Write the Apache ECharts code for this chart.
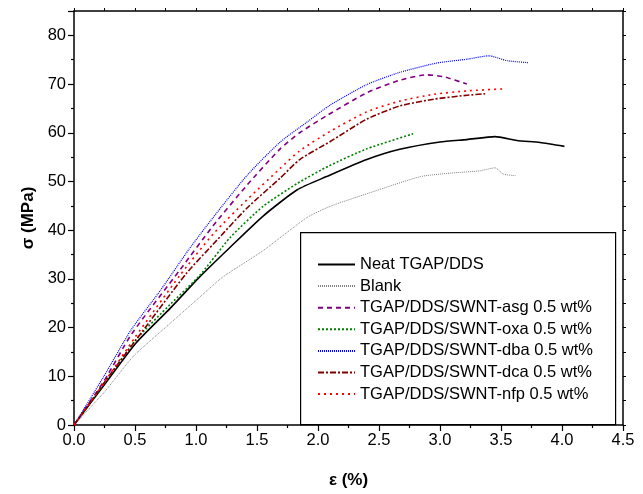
<!DOCTYPE html>
<html>
<head>
<meta charset="utf-8">
<script src="https://cdn.jsdelivr.net/npm/echarts@6/dist/echarts.min.js"></script>
<style>
html,body{margin:0;padding:0;background:#fff;}
#chart{width:643px;height:494px;}
</style>
</head>
<body>
<div id="chart"></div>
<script>
const xTicks = [0, 0.5, 1, 1.5, 2, 2.5, 3, 3.5, 4, 4.5];
const yTicks = [0, 10, 20, 30, 40, 50, 60, 70, 80];
const seriesNames = [
  'Neat TGAP/DDS',
  'Blank',
  'TGAP/DDS/SWNT-asg 0.5 wt%',
  'TGAP/DDS/SWNT-oxa 0.5 wt%',
  'TGAP/DDS/SWNT-dba 0.5 wt%',
  'TGAP/DDS/SWNT-dca 0.5 wt%',
  'TGAP/DDS/SWNT-nfp 0.5 wt%'
];
const neat = [[0,0],[0.25,8.3],[0.51,16.9],[0.79,24.0],[1.03,30.4],[1.28,36.5],[1.55,42.9],[1.83,48.3],[2.07,51.0],[2.4,54.5],[2.67,56.6],[3.0,58.1],[3.22,58.6],[3.45,59.2],[3.63,58.4],[3.82,58.0],[4.02,57.2]];
const blank = [[0,0],[0.25,6.8],[0.49,14.2],[0.79,20.9],[1.1,27.8],[1.22,30.4],[1.55,35.8],[1.91,42.6],[2.1,44.9],[2.5,48.3],[2.84,51.0],[3.08,51.7],[3.33,52.2],[3.45,52.8],[3.52,51.5],[3.62,51.2]];
const asg = [[0,0],[0.25,9.2],[0.47,18.6],[0.87,31.9],[1.14,40.9],[1.42,49.3],[1.69,56.7],[1.85,60.0],[2.07,63.5],[2.4,68.2],[2.67,70.8],[2.89,71.9],[3.03,71.5],[3.22,70.0]];
const oxa = [[0,0],[0.25,8.6],[0.5,17.3],[0.79,24.8],[1.03,30.7],[1.28,38.5],[1.55,44.9],[1.83,49.6],[2.09,53.2],[2.4,56.7],[2.78,59.8]];
const dba = [[0,0],[0.24,9.8],[0.47,19.6],[0.71,27.7],[0.94,36.0],[1.14,42.6],[1.42,51.3],[1.69,58.1],[1.91,62.2],[2.1,65.7],[2.4,69.9],[2.67,72.4],[2.97,74.3],[3.22,75.1],[3.40,75.8],[3.55,74.8],[3.72,74.4]];
const dca = [[0,0],[0.25,8.8],[0.5,17.2],[0.92,31.1],[1.14,37.1],[1.42,44.6],[1.69,50.7],[1.85,54.5],[2.1,58.2],[2.4,62.8],[2.67,65.5],[2.95,66.9],[3.22,67.7],[3.37,68.0]];
const nfp = [[0,0],[0.25,8.8],[0.5,18.0],[0.87,30.8],[1.14,39.2],[1.42,46.3],[1.69,52.7],[1.85,56.3],[2.1,60.3],[2.4,64.3],[2.67,66.5],[2.95,67.9],[3.22,68.6],[3.51,69.0]];

const seriesData = [neat, blank, asg, oxa, dba, dca, nfp];
const styles = [
  {color:'#000000', width:1.6, type:'solid'},
  {color:'#808080', width:1, type:[1,1]},
  {color:'#800080', width:1.6, type:[5,4]},
  {color:'#008000', width:1.6, type:[2,2]},
  {color:'#0000ff', width:1.2, type:[1,1]},
  {color:'#800000', width:1.6, type:[6,2,2,2]},
  {color:'#ff0000', width:1.6, type:[2,4]}
];

const chart = echarts.init(document.getElementById('chart'), null, {renderer:'canvas'});
const FONT = 'Arial, "Liberation Sans", sans-serif';
const option = {
  animation: false,
  backgroundColor: '#fff',
  grid: {left: 74, right: 20, top: 11, bottom: 64, containLabel: false},
  xAxis: [{
    type: 'value', position: 'bottom', min: xTicks[0], max: xTicks[xTicks.length-1], interval: 0.5,
    name: 'ε (%)', nameLocation: 'middle', nameGap: 47,
    nameTextStyle: {fontFamily: FONT, fontWeight: 'bold', fontSize: 17, color: '#000'},
    axisLine: {show: true, onZero: false, lineStyle: {color: '#000', width: 1.5}},
    axisTick: {show: true, inside: false, length: 6, lineStyle: {color: '#000', width: 1.2}},
    minorTick: {show: true, splitNumber: 2, length: 3, lineStyle: {color: '#000', width: 1.2}},
    axisLabel: {fontFamily: FONT, fontSize: 16.5, color: '#000', margin: 7, formatter: v => v.toFixed(1)},
    splitLine: {show: false}
  }, {
    type: 'value', position: 'top', min: 0, max: 4.5, interval: 0.25,
    axisLine: {show: true, onZero: false, lineStyle: {color: '#000', width: 1.5}},
    axisTick: {show: true, inside: false, length: 3, lineStyle: {color: '#000', width: 1}},
    axisLabel: {show: false}, splitLine: {show: false}
  }],
  yAxis: [{
    type: 'value', position: 'left', min: yTicks[0], max: 85, interval: 10,
    name: 'σ (MPa)', nameLocation: 'middle', nameGap: 36, nameRotate: 90,
    nameTextStyle: {fontFamily: FONT, fontWeight: 'bold', fontSize: 17, color: '#000'},
    axisLine: {show: true, onZero: false, lineStyle: {color: '#000', width: 1.5}},
    axisTick: {show: true, inside: false, length: 6, lineStyle: {color: '#000', width: 1.2}},
    minorTick: {show: true, splitNumber: 2, length: 3, lineStyle: {color: '#000', width: 1.2}},
    axisLabel: {fontFamily: FONT, fontSize: 16.5, color: '#000', margin: 8,
      formatter: v => (yTicks.indexOf(v) >= 0 ? String(v) : '')},
    splitLine: {show: false}
  }, {
    type: 'value', position: 'right', min: 0, max: 85, interval: 5,
    axisLine: {show: true, onZero: false, lineStyle: {color: '#000', width: 1.5}},
    axisTick: {show: true, inside: false, length: 3, lineStyle: {color: '#000', width: 1}},
    axisLabel: {show: false}, splitLine: {show: false}
  }],
  legend: {
    orient: 'vertical', left: 317, top: 256, z: 20,
    itemWidth: 37, itemHeight: 14, itemGap: 4.6, padding: 0,
    itemStyle: {color: 'rgba(0,0,0,0)', borderWidth: 0, borderColor: 'rgba(0,0,0,0)'},
    textStyle: {fontFamily: FONT, fontSize: 16.5, color: '#000', padding: 0},
    data: seriesNames
  },
  graphic: [{
    type: 'rect', left: 300, top: 232, z: 3,
    shape: {x: 0, y: 0, width: 315, height: 192},
    style: {fill: '#fff', stroke: '#000', lineWidth: 1.2}
  }],
  series: seriesData.map((d, i) => ({
    name: seriesNames[i], type: 'line', data: d, xAxisIndex: 0, yAxisIndex: 0,
    symbol: 'none', smooth: 0.2, z: 2,
    lineStyle: {color: styles[i].color, width: styles[i].width, type: styles[i].type},
    itemStyle: {color: styles[i].color}
  }))
};
chart.setOption(option);
</script>
</body>
</html>
